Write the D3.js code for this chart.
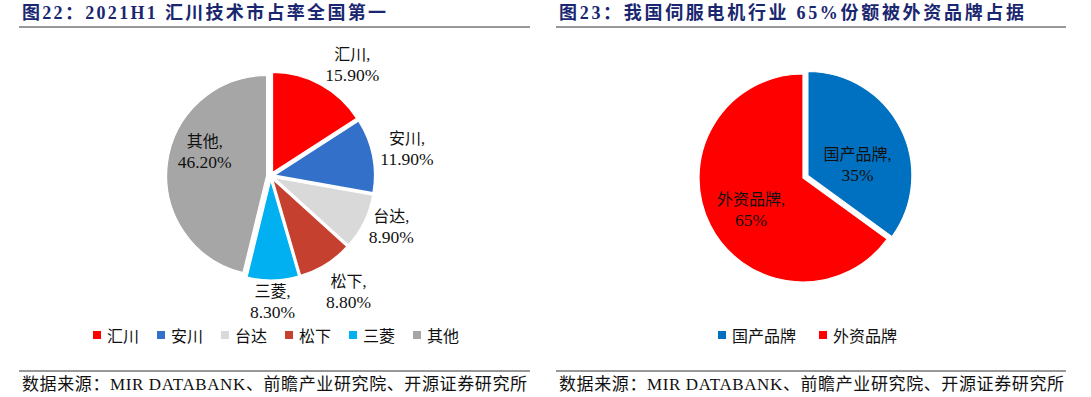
<!DOCTYPE html>
<html>
<head>
<meta charset="utf-8">
<script src="https://cdn.jsdelivr.net/npm/d3@7"></script>
<style>
  body { margin: 0; background: #fff; }
  svg { display: block; }
  text { font-family: "Liberation Serif", "Times New Roman", "Noto Sans CJK SC", serif; }
</style>
</head>
<body>
<svg id="chart" width="1091" height="397"></svg>
<script>
// 图22 data
var brandNames = ["汇川", "安川", "台达", "松下", "三菱", "其他"];
var brandShares = [15.9, 11.9, 8.9, 8.8, 8.3, 46.2];
var brandColors = ["#FF0000", "#3370C9", "#D9D9D9", "#C5402F", "#00B0F0", "#A6A6A6"];

// 图23 data
var originNames = ["国产品牌", "外资品牌"];
var originShares = [35, 65];
var originColors = ["#0070C0", "#FF0000"];

var titleLeft = "图22：2021H1 汇川技术市占率全国第一";
var titleRight = "图23：我国伺服电机行业 65%份额被外资品牌占据";
var sourceText = "数据来源：MIR DATABANK、前瞻产业研究院、开源证券研究所";

var svg = d3.select("#chart");

function drawPanel(cfg) {
  var g = svg.append("g");

  // title + rules
  g.append("text")
    .attr("x", cfg.x0 + 3).attr("y", 19)
    .attr("textLength", cfg.titleLen).attr("lengthAdjust", "spacing")
    .attr("font-size", 18).attr("font-weight", "bold").attr("fill", "#1A2770")
    .text(cfg.title);
  g.append("line").attr("x1", cfg.x0).attr("x2", cfg.x1).attr("y1", 27).attr("y2", 27)
    .attr("stroke", "#333").attr("stroke-width", 1.2);
  g.append("line").attr("x1", cfg.x0).attr("x2", cfg.x1).attr("y1", 371).attr("y2", 371)
    .attr("stroke", "#333").attr("stroke-width", 1.2);
  g.append("text")
    .attr("x", cfg.x0 + 3).attr("y", 390)
    .attr("textLength", 505).attr("lengthAdjust", "spacing")
    .attr("font-size", 17).attr("fill", "#111")
    .text(sourceText);

  var aData = cfg.names.map(function (n, i) {
    return { name: n, value: cfg.values[i], color: cfg.colors[i], i: i };
  });
  var arcs = d3.pie().sort(null).value(function (d) { return d.value; })(aData);
  var arc = d3.arc().innerRadius(0).outerRadius(cfg.r);
  var mid = function (a) { return (a.startAngle + a.endAngle) / 2; };

  var pie = g.append("g").attr("transform", "translate(" + cfg.cx + "," + cfg.cy + ")");
  pie.selectAll("path").data(arcs).enter().append("path")
    .attr("d", arc)
    .attr("fill", function (a) { return a.data.color; })
    .attr("stroke", "#fff").attr("stroke-width", 1.2)
    .attr("transform", function (a) {
      var e = cfg.explode[a.index], m = mid(a);
      return "translate(" + (Math.sin(m) * e) + "," + (-Math.cos(m) * e) + ")";
    });

  // data labels, two lines each
  var lab = pie.selectAll("g.lab").data(arcs).enter().append("g").attr("class", "lab")
    .attr("transform", function (a) {
      var m = mid(a) + cfg.labelShift[a.index] * Math.PI / 180, lr = cfg.labelR[a.index];
      return "translate(" + (Math.sin(m) * lr) + "," + (-Math.cos(m) * lr) + ")";
    });
  lab.append("text").attr("text-anchor", "middle").attr("y", -5)
    .attr("font-size", 16).attr("fill", "#111")
    .text(function (a) { return a.data.name + ","; });
  lab.append("text").attr("text-anchor", "middle").attr("y", 16)
    .attr("font-size", 17.5).attr("fill", "#111")
    .text(function (a) { return cfg.fmt(a.data.value) + "%"; });

  // legend
  var leg = g.selectAll("g.leg").data(aData).enter().append("g").attr("class", "leg")
    .attr("transform", function (d) { return "translate(" + (cfg.legX + d.i * cfg.legPitch) + ",335)"; });
  leg.append("rect").attr("x", 0).attr("y", -4).attr("width", 8).attr("height", 8)
    .attr("fill", function (d) { return d.color; });
  leg.append("text").attr("x", 14).attr("y", 6.5)
    .attr("font-size", 16).attr("fill", "#111")
    .text(function (d) { return d.name; });
}

drawPanel({
  x0: 19, x1: 530, title: titleLeft, titleLen: 364,
  names: brandNames, values: brandShares, colors: brandColors,
  cx: 270.6, cy: 176, r: 100,
  explode: [4, 4, 4, 4, 4, 4],
  labelR: [138, 139, 131, 140, 126, 70],
  labelShift: [7.7, 0.3, -3.2, -1.8, 0.4, 12.8],
  fmt: d3.format(".2f"),
  legX: 93, legPitch: 64
});

drawPanel({
  x0: 556, x1: 1066, title: titleRight, titleLen: 465,
  names: originNames, values: originShares, colors: originColors,
  cx: 803, cy: 178, r: 104,
  explode: [5.5, 0],
  labelR: [56, 61],
  labelShift: [14, -4.6],
  fmt: d3.format("d"),
  legX: 718, legPitch: 101
});
</script>
</body>
</html>
